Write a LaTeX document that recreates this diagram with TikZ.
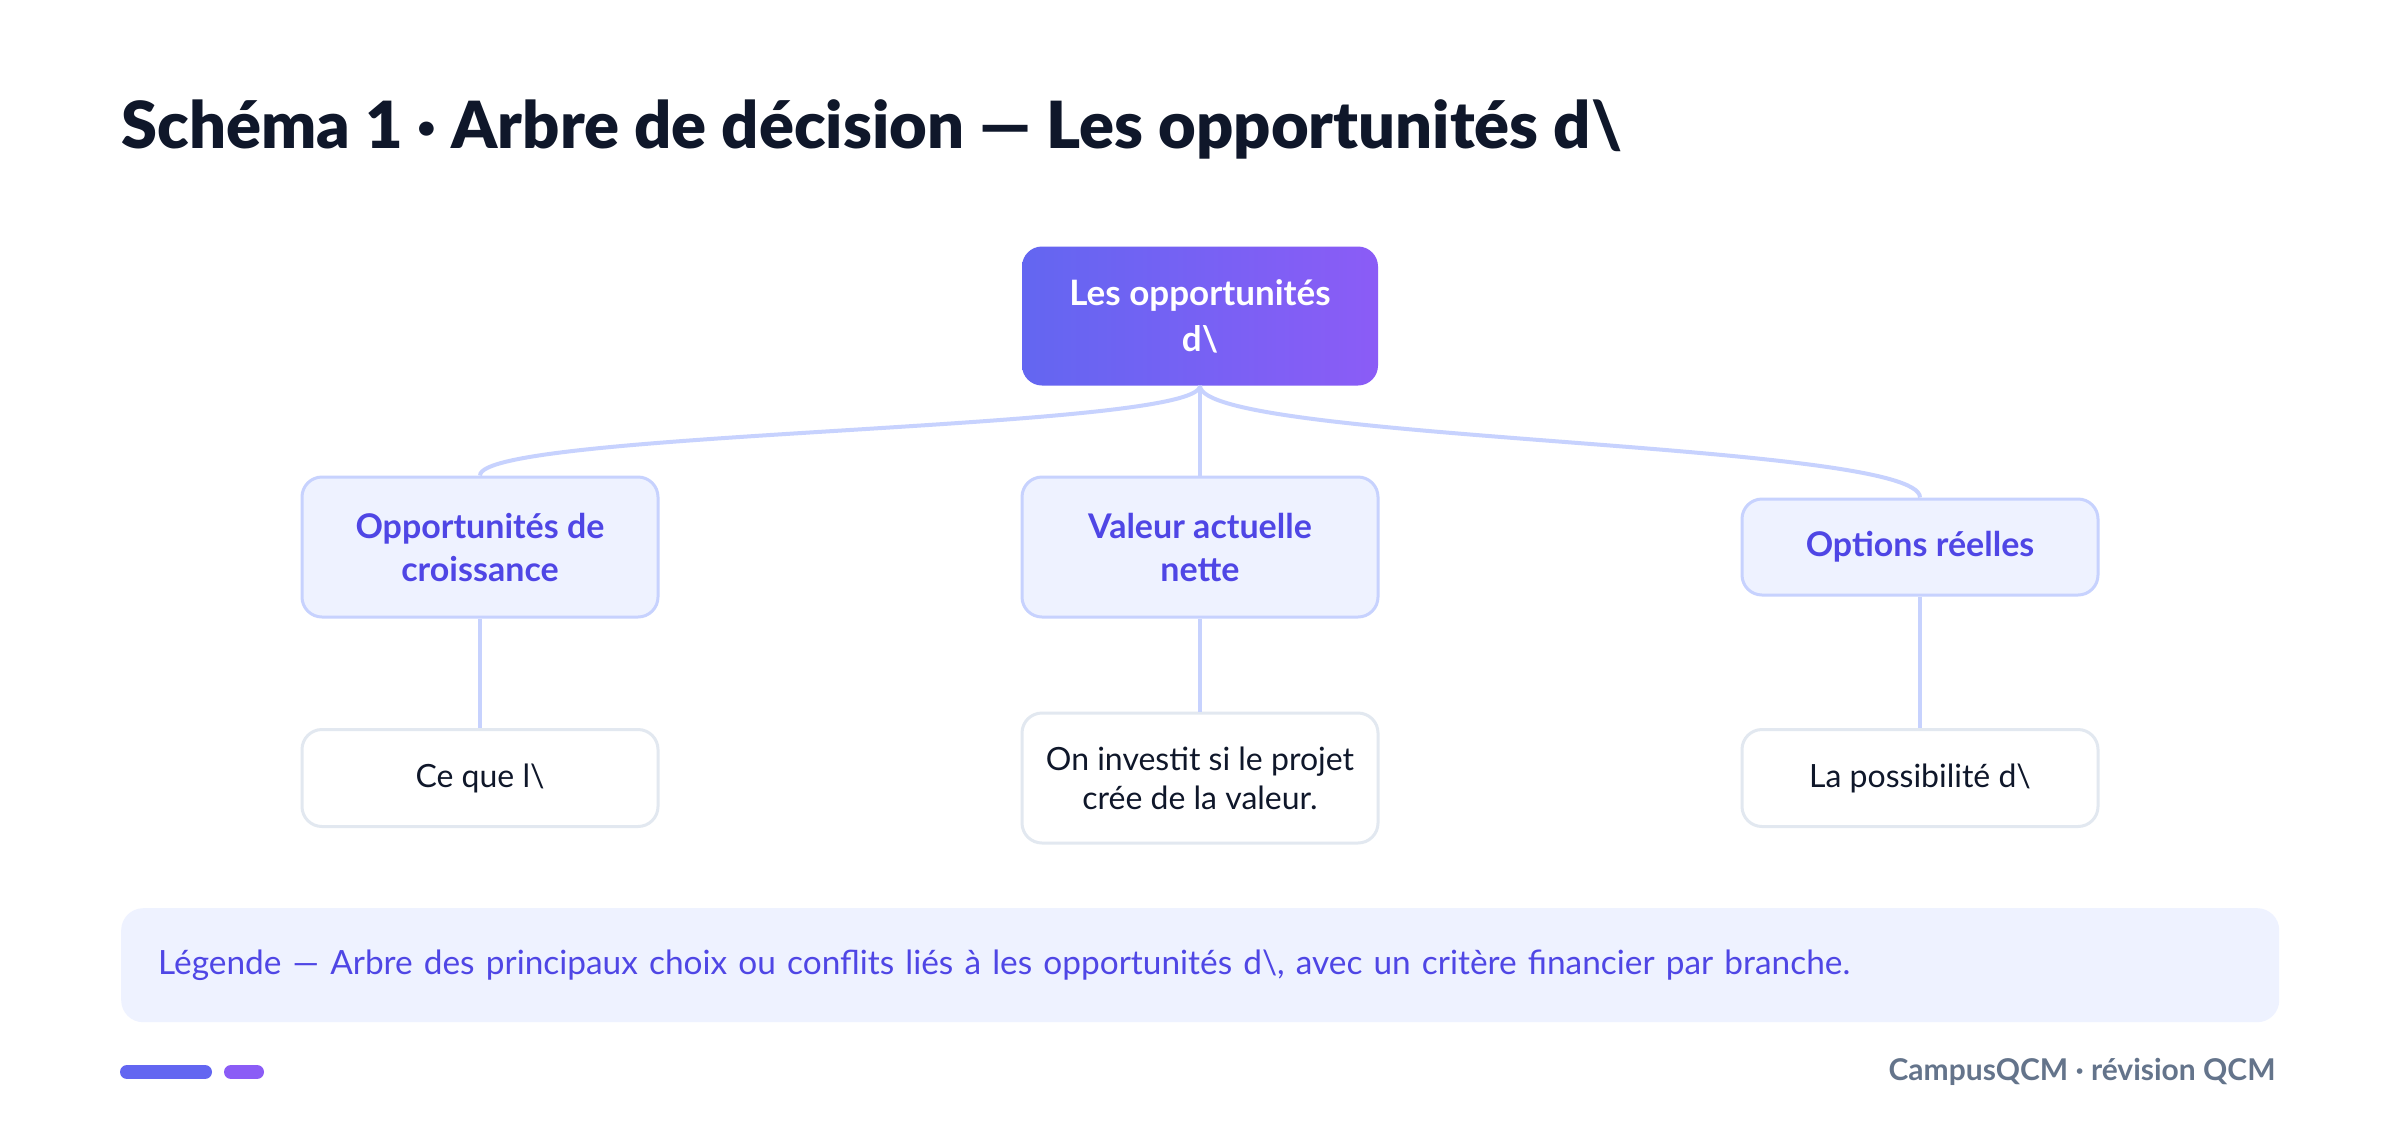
\documentclass[tikz,border=0pt]{standalone}
\usepackage{fontspec}
\setmainfont{Lato}
\newfontfamily\heavyfont{Lato Black}
\usetikzlibrary{positioning, calc}
\definecolor{ink}{RGB}{15,23,42}
\definecolor{primary}{RGB}{99,102,241}
\definecolor{secondary}{RGB}{139,92,246}
\definecolor{accent}{RGB}{79,70,229}
\definecolor{lightbg}{RGB}{238,242,255}
\definecolor{edge}{RGB}{199,210,254}
\definecolor{leafedge}{RGB}{226,232,240}
\definecolor{muted}{RGB}{100,116,139}
\tikzset{
  rootbox/.style={rectangle, rounded corners=20pt, left color=primary,
                  right color=secondary, minimum width=356pt, minimum height=139pt,
                  align=center, text=white, font=\bfseries\fontsize{35}{46}\selectfont},
  branch/.style={rectangle, rounded corners=20pt, draw=edge, line width=3pt,
                 fill=lightbg, minimum width=356pt, align=center,
                 text=accent, font=\bfseries\fontsize{34}{43}\selectfont},
  leaf/.style={rectangle, rounded corners=20pt, draw=leafedge, line width=3pt,
               fill=white, minimum width=356pt, align=center,
               text=ink, font=\fontsize{32}{39}\selectfont},
  link/.style={draw=edge, line width=4pt},
  bar/.style={line width=14pt, line cap=round},
}

\begin{document}
\begin{tikzpicture}[x=1pt, y=-1pt]
    \useasboundingbox (0,0) rectangle (2400,1133);
    \fill[white] (0,0) rectangle (2400,1133);

    \node[anchor=base west, text=ink, font=\heavyfont\fontsize{65}{78}\selectfont] (title)
      at (118,148) {Schéma 1 · Arbre de décision — Les opportunités d\textbackslash};

    \node[rootbox] (root) at (1200,316) {Les opportunités\\d\textbackslash};

    \foreach \name/\x/\h/\txt in {
      opp/480/140/{Opportunités de\\croissance},
      van/1200/140/{Valeur actuelle\\nette},
      opt/1920/96/{Options réelles}}{
      \node[branch, minimum height=\h pt] (\name) at (\x,547) {\txt};
    }

    \foreach \name/\x/\h/\txt in {
      ceq/480/97/{Ce que l\textbackslash},
      inv/1200/130/{On investit si le projet\\crée de la valeur.},
      pos/1920/97/{La possibilité d\textbackslash}}{
      \node[leaf, minimum height=\h pt] (\name) at (\x,778) {\txt};
    }

    % branches
    \draw[link] (root.south) .. controls +(0,45) and +(0,-45) .. (opp.north);
    \draw[link] (root.south) -- (van.north);
    \draw[link] (root.south) .. controls +(0,56) and +(0,-56) .. (opt.north);
    \foreach \a/\b in {opp/ceq, van/inv, opt/pos}
      \draw[link] (\a.south) -- (\b.north);

    \node[anchor=north west, fill=lightbg, rounded corners=22pt, minimum height=114pt,
          text width=2084pt, inner xsep=37pt, align=left, text=accent,
          font=\fontsize{33.4}{38}\selectfont] (legend) at (121,908)
      {Légende — Arbre des principaux choix ou conflits liés à les opportunités d\textbackslash, avec un critère financier par branche.};

    \draw[bar, primary] (127,1072) -- (205,1072);
    \draw[bar, secondary] (231,1072) -- (257,1072);
    \node[anchor=east, text=muted, font=\fontsize{30}{34}\selectfont\bfseries] (footer)
      at (2279,1072) {CampusQCM · révision QCM};
  \end{tikzpicture}
\end{document}
